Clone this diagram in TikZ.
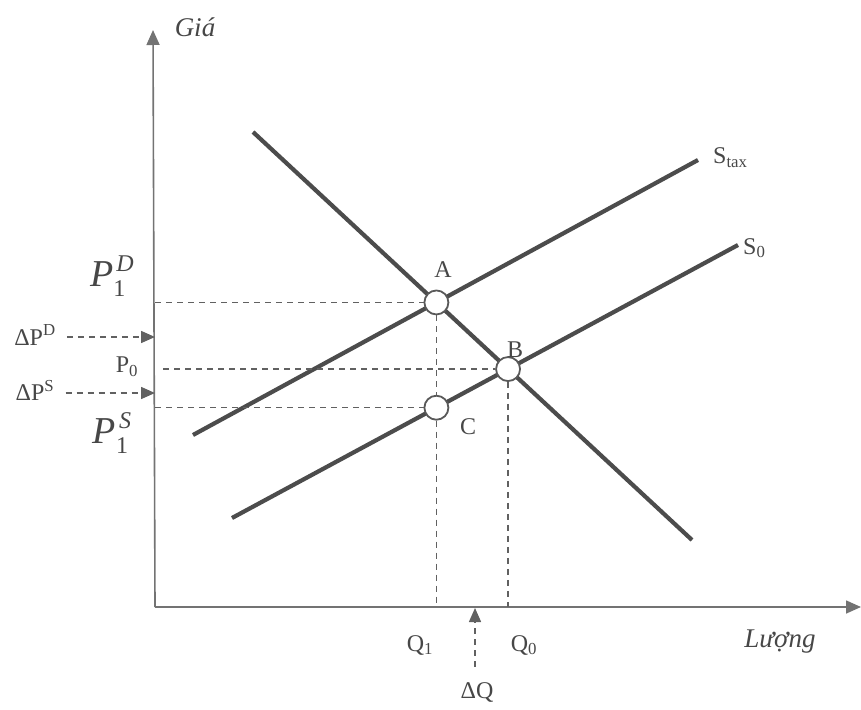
\documentclass[tikz,border=0pt]{standalone}
\usepackage{amsmath}
\usepackage{fontspec}
\setmainfont{Liberation Serif}
\usetikzlibrary{arrows.meta,positioning,intersections}

\newcommand{\bigprice}[1]{\textit{P}\makebox[0pt][l]{\raisebox{-10pt}{\fontsize{24}{24}\selectfont 1}}%
  \raisebox{15pt}{\fontsize{24}{24}\selectfont\hspace{3pt}\textit{#1}}}

\begin{document}
\begin{tikzpicture}[x=1pt, y=-1pt,
    axis/.style={draw=black!55, line width=1.6pt},
    curve/.style={draw=black!70, line width=4.2pt},
    guide/.style={draw=black!62, line width=1.5pt, dash pattern=on 6pt off 5pt},
    point/.style={circle, draw=black!65, fill=white, line width=1.8pt,
                  minimum size=24pt, inner sep=0pt},
    lab/.style={text=black!72, font=\fontsize{24}{26}\selectfont, inner sep=1pt},
    tip/.style={-{Triangle[length=14pt, width=12pt]}}]
  \useasboundingbox (0,0) rectangle (861,709);

  % Axes
  \coordinate (O) at (155,607);
  \coordinate (Ytop) at (153,30);
  \coordinate (Xend) at (861,607);
  \draw[axis, -{Triangle[length=15pt, width=13pt]}] (O) -- (Ytop);
  \draw[axis, -{Triangle[length=15pt, width=13pt]}] (O) -- (Xend);
  \node[lab, font=\itshape\fontsize{27}{29}\selectfont] (gia) at (195,27) {Giá};
  \node[lab, font=\itshape\fontsize{27}{29}\selectfont] (luong) at (780,642) {Lượng};

  % Demand and supply curves
  \coordinate (D1) at (253,132);
  \coordinate (D2) at (692,540);
  \coordinate (T1) at (193,435);
  \coordinate (T2) at (698,160);
  \coordinate (S1) at (232,518);
  \coordinate (S2) at (738,245);
  \draw[curve, name path=dem] (D1) -- (D2);
  \draw[curve, name path=stax] (T1) -- (T2);
  \draw[curve, name path=szero] (S1) -- (S2);
  \node[lab, anchor=west] (stax) at (712,158) {S\textsubscript{tax}};
  \node[lab, anchor=west] (szero) at (742,248) {S\textsubscript{0}};

  % Equilibrium points
  \path[name intersections={of=dem and stax, by=a}];
  \path[name intersections={of=dem and szero, by=b}];
  \node[point] (A) at (a) {};
  \node[point] (B) at (b) {};
  \path[name path=vert] (a) -- (a |- O);
  \path[name intersections={of=vert and szero, by=c}];
  \node[point] (C) at (c) {};
  \node[lab] (labA) at (443,270) {A};
  \node[lab] (labB) at (515,350) {B};
  \node[lab] (labC) at (468,427) {C};

  % Guide lines
  \draw[guide] (O |- A) -- (A);
  \draw[guide] ([xshift=8pt]O |- B) -- (B);
  \draw[guide] (O |- C) -- (C);
  \draw[guide] (A) -- (C);
  \draw[guide] (C) -- (C |- O);
  \draw[guide] (B) -- (B |- O);

  % Price labels
  \node[lab, font=\fontsize{38}{40}\selectfont] (pd) at (112,276) {\bigprice{D}};
  \node[lab, font=\fontsize{38}{40}\selectfont] (ps) at (112,433) {\bigprice{S}};
  \node[lab] (pzero) at (127,367) {P\textsubscript{0}};
  \node[lab] (dpd) at (35,335) {ΔP\textsuperscript{D}};
  \node[lab] (dps) at (35,390) {ΔP\textsuperscript{S}};
  \coordinate (dpdtip) at (155,337);
  \coordinate (dpstip) at (155,393);
  \draw[guide, tip] ([xshift=10pt]dpd.east |- dpdtip) -- (dpdtip);
  \draw[guide, tip] ([xshift=10pt]dps.east |- dpstip) -- (dpstip);

  % Quantity labels
  \node[lab] (qone) at (420,645) {Q\textsubscript{1}};
  \node[lab] (qzero) at (524,645) {Q\textsubscript{0}};
  \node[lab] (dq) at (477,692) {ΔQ};
  \coordinate (dqtip) at (475,608);
  \draw[guide, tip] ([yshift=14pt]dq.north -| dqtip) -- (dqtip);
\end{tikzpicture}
\end{document}
